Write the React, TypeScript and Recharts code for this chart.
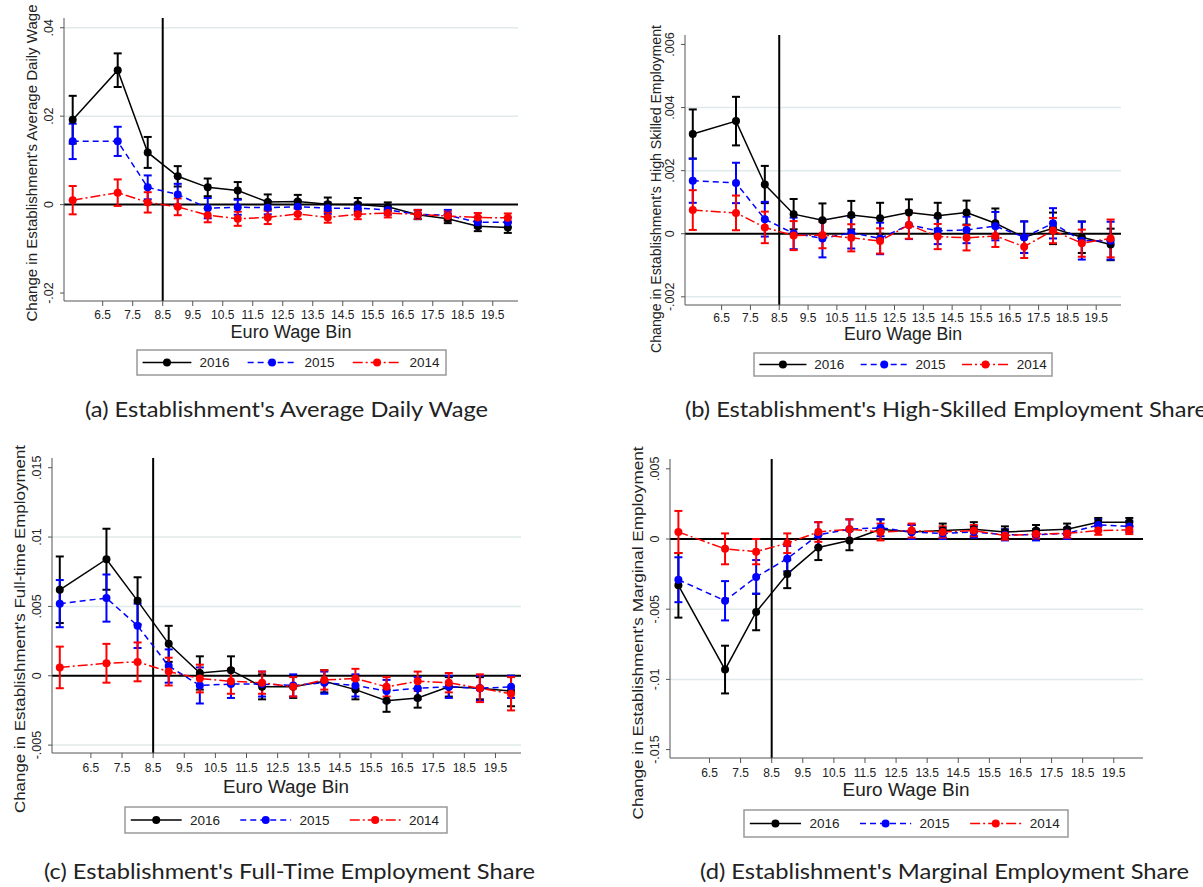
import { ErrorBar, Line, LineChart, ReferenceLine, XAxis, YAxis } from 'recharts';

const bins = [5.5, 7, 8, 9, 10, 11, 12, 13, 14, 15, 16, 17, 18, 19, 20];
const binTicks = [6.5, 7.5, 8.5, 9.5, 10.5, 11.5, 12.5, 13.5, 14.5, 15.5, 16.5, 17.5, 18.5, 19.5];
const years = ['2016', '2015', '2014'];

// (a) average daily wage
const wage2016 = [0.0192, 0.0304, 0.0118, 0.0064, 0.0039, 0.0032, 0.0006, 0.0007, 0.0001, 0.0, -0.0005, -0.0023, -0.0032, -0.0049, -0.0052];
const wage2016Err = [0.0054, 0.0038, 0.0035, 0.0023, 0.002, 0.0019, 0.0017, 0.0015, 0.0015, 0.0015, 0.001, 0.001, 0.001, 0.0011, 0.0012];
const wage2015 = [0.0143, 0.0143, 0.0039, 0.0023, -0.0008, -0.0006, -0.0007, -0.0005, -0.0008, -0.0008, -0.0012, -0.0022, -0.0024, -0.004, -0.004];
const wage2015Err = [0.004, 0.0033, 0.0027, 0.0024, 0.0023, 0.0017, 0.0015, 0.0014, 0.0013, 0.0012, 0.0011, 0.001, 0.0012, 0.0012, 0.0011];
const wage2014 = [0.001, 0.0027, 0.0005, -0.0005, -0.0024, -0.0032, -0.0029, -0.0021, -0.0029, -0.0022, -0.0019, -0.0022, -0.0026, -0.0029, -0.003];
const wage2014Err = [0.0032, 0.003, 0.0023, 0.0019, 0.0016, 0.0016, 0.0015, 0.0012, 0.0012, 0.0011, 0.001, 0.001, 0.001, 0.001, 0.001];

// (b) high-skilled employment share
const skill2016 = [0.00316, 0.00357, 0.00156, 0.00062, 0.00043, 0.00059, 0.00049, 0.00067, 0.00057, 0.00067, 0.00033, -0.00011, 0.00017, -0.00011, -0.00034];
const skill2016Err = [0.00078, 0.00077, 0.00059, 0.00048, 0.00053, 0.00045, 0.00049, 0.00042, 0.00041, 0.00038, 0.00047, 0.0005, 0.0005, 0.0005, 0.0005];
const skill2015 = [0.00168, 0.00161, 0.00046, 0.00001, -0.00015, 0.00003, -0.00015, 0.00028, 0.00009, 0.00012, 0.00024, -0.00011, 0.00033, -0.00022, -0.00022];
const skill2015Err = [0.0007, 0.00064, 0.00055, 0.0005, 0.0006, 0.0005, 0.0005, 0.00045, 0.00042, 0.00042, 0.00045, 0.0005, 0.00048, 0.0006, 0.0006];
const skill2014 = [0.00075, 0.00066, 0.0002, -0.00006, -0.00004, -0.00013, -0.00023, 0.00028, -0.00009, -0.00013, -0.00007, -0.00041, 0.0001, -0.0003, -0.00015];
const skill2014Err = [0.00063, 0.00055, 0.0005, 0.00046, 0.00042, 0.00043, 0.0004, 0.00044, 0.0004, 0.0004, 0.00035, 0.00036, 0.0004, 0.00043, 0.0006];

// (c) full-time employment share
const full2016 = [0.0062, 0.0084, 0.0054, 0.0023, 0.0002, 0.0004, -0.0008, -0.0008, -0.0004, -0.001, -0.0018, -0.0016, -0.0008, -0.0009, -0.0011];
const full2016Err = [0.0024, 0.0022, 0.0017, 0.0013, 0.0012, 0.001, 0.0009, 0.0008, 0.0008, 0.0007, 0.0008, 0.0007, 0.0007, 0.0008, 0.0011];
const full2015 = [0.0052, 0.0056, 0.0036, 0.0007, -0.0007, -0.0006, -0.0006, -0.0007, -0.0005, -0.0007, -0.0011, -0.0009, -0.0008, -0.0009, -0.0008];
const full2015Err = [0.0017, 0.0017, 0.0016, 0.0012, 0.0013, 0.001, 0.0009, 0.0008, 0.0008, 0.0008, 0.0008, 0.0008, 0.0008, 0.0009, 0.0008];
const full2014 = [0.0006, 0.0009, 0.001, 0.0003, -0.0002, -0.0004, -0.0005, -0.0008, -0.0003, -0.0002, -0.0008, -0.0004, -0.0005, -0.0009, -0.0013];
const full2014Err = [0.0015, 0.0014, 0.0014, 0.001, 0.001, 0.0009, 0.0008, 0.0007, 0.0007, 0.0007, 0.0007, 0.0007, 0.0007, 0.001, 0.0012];

// (d) marginal employment share
const marg2016 = [-0.0033, -0.0093, -0.0052, -0.0025, -0.0006, -0.0001, 0.0007, 0.0005, 0.0006, 0.0007, 0.0005, 0.0006, 0.0007, 0.0012, 0.0012];
const marg2016Err = [0.0023, 0.0017, 0.0013, 0.001, 0.0009, 0.0007, 0.0007, 0.0005, 0.0005, 0.0005, 0.0004, 0.0004, 0.0004, 0.0003, 0.0003];
const marg2015 = [-0.0029, -0.0044, -0.0027, -0.0014, 0.0003, 0.0007, 0.0008, 0.0005, 0.0004, 0.0005, 0.0003, 0.0003, 0.0004, 0.001, 0.0009];
const marg2015Err = [0.0016, 0.0014, 0.0012, 0.0009, 0.0009, 0.0007, 0.0006, 0.0005, 0.0004, 0.0004, 0.0004, 0.0004, 0.0004, 0.0004, 0.0004];
const marg2014 = [0.0005, -0.0007, -0.0009, -0.0003, 0.0005, 0.0007, 0.0005, 0.0006, 0.0005, 0.0006, 0.00025, 0.00035, 0.0004, 0.0006, 0.00065];
const marg2014Err = [0.0015, 0.0011, 0.0009, 0.0007, 0.0007, 0.0007, 0.0006, 0.0005, 0.0004, 0.0004, 0.0003, 0.0003, 0.0003, 0.0003, 0.0003];

const seriesStyle: Record<string, { color: string; dash?: string; width: number }> = {
  '2016': { color: '#000000', width: 1.5 },
  '2015': { color: '#0000ff', dash: '6 4', width: 1.5 },
  '2014': { color: '#ff0000', dash: '10 3 2 3', width: 1.5 }
};

const FONT = '"Liberation Sans", Arial, sans-serif';

function buildRows(s16: number[], e16: number[], s15: number[], e15: number[], s14: number[], e14: number[]) {
  return bins.map((bin, i) => ({
    bin,
    y2016: s16[i],
    e2016: e16[i],
    y2015: s15[i],
    e2015: e15[i],
    y2014: s14[i],
    e2014: e14[i]
  }));
}

const panels = [
  {
    key: 'a',
    yTitle: "Change in Establishment's Average Daily Wage",
    caption: "(a) Establishment's Average Daily Wage",
    rows: buildRows(wage2016, wage2016Err, wage2015, wage2015Err, wage2014, wage2014Err),
    yDomain: [-0.0218, 0.0422],
    yTicks: [-0.02, 0, 0.02, 0.04],
    grid: [0.02, 0.04],
    xDomain: [5.21, 20.34],
    plot: { l: 64, t: 18, r: 518, b: 301 },
    yTitlePos: { x: 32, y: 163, len: 317, size: 14.5 },
    xTitlePos: { x: 291, y: 332, len: 121 },
    legendPos: { x: 137, y: 350, w: 309, h: 25 },
    captionPos: { x: 85, y: 408, len: 403 },
    xGap: 14
  },
  {
    key: 'b',
    yTitle: "Change in Establishment's High Skilled Employment",
    caption: "(b) Establishment's High-Skilled Employment Share",
    rows: buildRows(skill2016, skill2016Err, skill2015, skill2015Err, skill2014, skill2014Err),
    yDomain: [-0.00226, 0.0063],
    yTicks: [-0.002, 0, 0.002, 0.004, 0.006],
    grid: [-0.002, 0.002, 0.004],
    xDomain: [5.23, 20.36],
    plot: { l: 685, t: 35, r: 1121, b: 305 },
    yTitlePos: { x: 656, y: 189, len: 328, size: 14 },
    xTitlePos: { x: 903, y: 334, len: 118 },
    legendPos: { x: 754, y: 353, w: 298, h: 23 },
    captionPos: { x: 685, y: 408, len: 522 },
    xGap: 13
  },
  {
    key: 'c',
    yTitle: "Change in Establishment's Full-time Employment",
    caption: "(c) Establishment's Full-Time Employment Share",
    rows: buildRows(full2016, full2016Err, full2015, full2015Err, full2014, full2014Err),
    yDomain: [-0.00557, 0.0157],
    yTicks: [-0.005, 0, 0.005, 0.01, 0.015],
    grid: [-0.005, 0.005, 0.01],
    xDomain: [5.25, 20.32],
    plot: { l: 52, t: 458, r: 521, b: 753 },
    yTitlePos: { x: 19, y: 629, len: 368, size: 15.5 },
    xTitlePos: { x: 286, y: 787, len: 126 },
    legendPos: { x: 125, y: 807, w: 322, h: 26 },
    captionPos: { x: 44, y: 870, len: 491 },
    xGap: 15
  },
  {
    key: 'd',
    yTitle: "Change in Establishment's Marginal Employment",
    caption: "(d) Establishment's Marginal Employment Share",
    rows: buildRows(marg2016, marg2016Err, marg2015, marg2015Err, marg2014, marg2014Err),
    yDomain: [-0.0156, 0.0057],
    yTicks: [-0.015, -0.01, -0.005, 0, 0.005],
    grid: [-0.01, -0.005],
    xDomain: [5.23, 20.44],
    plot: { l: 670, t: 459, r: 1143, b: 758 },
    yTitlePos: { x: 637, y: 633, len: 373, size: 15.5 },
    xTitlePos: { x: 906, y: 790, len: 127 },
    legendPos: { x: 744, y: 810, w: 324, h: 27 },
    captionPos: { x: 700, y: 870, len: 489 },
    xGap: 15
  }
];

const fmt = (v: number) => (v === 0 ? '0' : String(v).replace('0.', '.'));

function XTick({ x, y, payload, gap }: any) {
  return (
    <text x={x} y={y + gap - 7} textAnchor="middle" dominantBaseline="central" fontSize={12} fontFamily={FONT} fill="#222">
      {payload.value}
    </text>
  );
}

function YTick({ x, y, payload }: any) {
  const cx = x - 9;
  return (
    <text
      x={cx}
      y={y}
      transform={`rotate(-90 ${cx} ${y})`}
      textAnchor="middle"
      dominantBaseline="central"
      fontSize={12.5}
      fontFamily={FONT}
      fill="#222"
    >
      {fmt(payload.value)}
    </text>
  );
}

function Panel({ p }: { p: (typeof panels)[number] }) {
  const YW = 40;
  const MT = 4;
  const MR = 4;
  const XH = 30;
  const w = p.plot.r - p.plot.l + YW + MR;
  const h = p.plot.b - p.plot.t + MT + XH;
  return (
    <div style={{ position: 'absolute', left: p.plot.l - YW, top: p.plot.t - MT }}>
      <LineChart width={w} height={h} data={p.rows} margin={{ top: MT, right: MR, left: 0, bottom: 0 }}>
        <XAxis
          dataKey="bin"
          type="number"
          domain={p.xDomain}
          ticks={binTicks}
          interval={0}
          allowDataOverflow
          height={XH}
          stroke="#555"
          tickSize={5}
          tick={<XTick gap={p.xGap} />}
        />
        <YAxis
          type="number"
          domain={p.yDomain}
          ticks={p.yTicks}
          interval={0}
          allowDataOverflow
          width={YW}
          stroke="#555"
          tickSize={4}
          tick={<YTick />}
        />
        {p.grid.map((g) => (
          <ReferenceLine key={g} y={g} stroke="#e0eaea" strokeWidth={1.5} />
        ))}
        <ReferenceLine y={0} stroke="#000" strokeWidth={2} />
        <ReferenceLine x={8.5} stroke="#000" strokeWidth={2} />
        {years.map((yr) => {
          const s = seriesStyle[yr];
          return (
            <Line
              key={yr}
              type="linear"
              dataKey={'y' + yr}
              stroke={s.color}
              strokeWidth={s.width}
              strokeDasharray={s.dash}
              dot={{ r: 4, fill: s.color, stroke: s.color, strokeWidth: 0 }}
              activeDot={false}
              isAnimationActive={false}
            >
              <ErrorBar dataKey={'e' + yr} width={4} stroke={s.color} strokeWidth={2} direction="y" />
            </Line>
          );
        })}
      </LineChart>
    </div>
  );
}

function Legend({ pos }: { pos: { x: number; y: number; w: number; h: number } }) {
  const cy = pos.y + pos.h / 2;
  return (
    <g>
      <rect x={pos.x} y={pos.y} width={pos.w} height={pos.h} fill="#fff" stroke="#999" strokeWidth={1.5} />
      {years.map((yr, k) => {
        const s = seriesStyle[yr];
        const x0 = pos.x + 0.018 * pos.w + k * 0.34 * pos.w;
        const len = 0.158 * pos.w;
        return (
          <g key={yr}>
            <line x1={x0} y1={cy} x2={x0 + len} y2={cy} stroke={s.color} strokeWidth={1.5} strokeDasharray={s.dash} />
            <circle cx={x0 + len / 2} cy={cy} r={4} fill={s.color} />
            <text x={x0 + 0.184 * pos.w} y={cy} dominantBaseline="central" fontSize={13.5} fontFamily={FONT} fill="#222">
              {yr}
            </text>
          </g>
        );
      })}
    </g>
  );
}

export default function App() {
  return (
    <div style={{ position: 'absolute', left: 0, top: 0, width: 1203, height: 887, overflow: 'hidden', background: '#fff' }}>
      {panels.map((p) => (
        <Panel key={p.key} p={p} />
      ))}
      <svg width={1203} height={887} style={{ position: 'absolute', left: 0, top: 0, pointerEvents: 'none' }}>
        {panels.map((p) => (
          <g key={p.key}>
            <text
              x={p.yTitlePos.x}
              y={p.yTitlePos.y}
              transform={`rotate(-90 ${p.yTitlePos.x} ${p.yTitlePos.y})`}
              textAnchor="middle"
              dominantBaseline="central"
              fontSize={p.yTitlePos.size}
              fontFamily={FONT}
              fill="#222"
              textLength={p.yTitlePos.len}
              lengthAdjust="spacingAndGlyphs"
            >
              {p.yTitle}
            </text>
            <text
              x={p.xTitlePos.x}
              y={p.xTitlePos.y}
              textAnchor="middle"
              dominantBaseline="central"
              fontSize={18}
              fontFamily={FONT}
              fill="#222"
              textLength={p.xTitlePos.len}
              lengthAdjust="spacingAndGlyphs"
            >
              Euro Wage Bin
            </text>
            <Legend pos={p.legendPos} />
            <text
              x={p.captionPos.x}
              y={p.captionPos.y}
              dominantBaseline="central"
              fontSize={21}
              fontFamily="Lato, 'Open Sans', sans-serif"
              fill="#222"
              textLength={p.captionPos.len}
              lengthAdjust="spacingAndGlyphs"
            >
              {p.caption}
            </text>
          </g>
        ))}
      </svg>
    </div>
  );
}
